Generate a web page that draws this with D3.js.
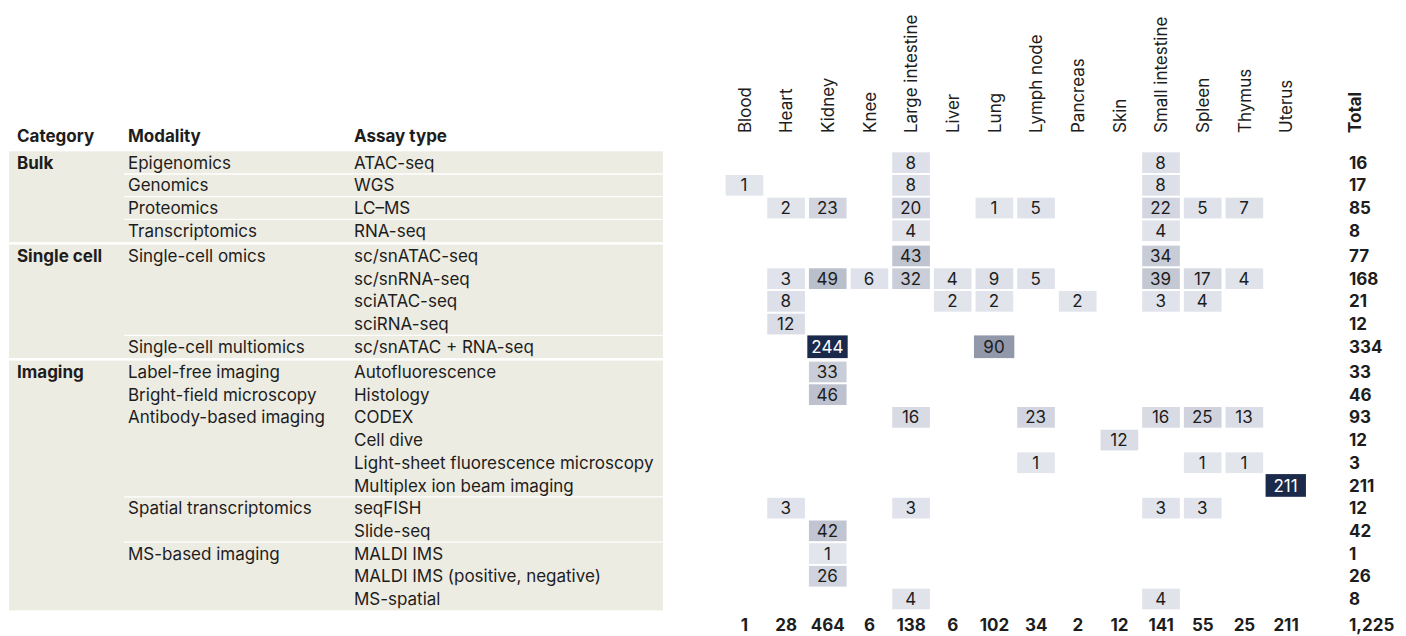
<!DOCTYPE html>
<html>
<head>
<meta charset="utf-8">
<script src="https://cdn.jsdelivr.net/npm/d3@7"></script>
<style>
  html, body { margin: 0; padding: 0; background: #ffffff; }
  svg { display: block; }
  text { font-family: Inter, "Noto Sans", Arial, sans-serif; fill: #1d1d1d; }
</style>
</head>
<body>
<svg id="chart" width="1406" height="636"></svg>
<script>
// ---------------- DATA ----------------
const tissues = ["Blood", "Heart", "Kidney", "Knee", "Large intestine", "Liver", "Lung",
  "Lymph node", "Pancreas", "Skin", "Small intestine", "Spleen", "Thymus", "Uterus"];

const categories = ["Bulk", "Single cell", "Imaging"];
const categoryRowCounts = [4, 5, 11];

const modalities = ["Epigenomics", "Genomics", "Proteomics", "Transcriptomics",
  "Single-cell omics", "Single-cell multiomics",
  "Label-free imaging", "Bright-field microscopy", "Antibody-based imaging",
  "Spatial transcriptomics", "MS-based imaging"];
const modalityRowCounts = [1, 1, 1, 1, 4, 1, 1, 1, 4, 2, 3];
const modalityRuled = [false, true, true, true, false, true, false, false, false, true, true];

const assays = ["ATAC-seq", "WGS", "LC\u2013MS", "RNA-seq",
  "sc/snATAC-seq", "sc/snRNA-seq", "sciATAC-seq", "sciRNA-seq", "sc/snATAC + RNA-seq",
  "Autofluorescence", "Histology", "CODEX", "Cell dive",
  "Light-sheet fluorescence microscopy", "Multiplex ion beam imaging",
  "seqFISH", "Slide-seq", "MALDI IMS", "MALDI IMS (positive, negative)", "MS-spatial"];

// counts per assay row, one value per tissue (0 = empty)
//            Bl He  Ki  Kn  LI Li Lu  LN Pa Sk  SI Sp Th  Ut
const counts = [
  [0, 0,   0, 0,  8, 0,  0,  0, 0, 0,  8,  0,  0,   0],
  [1, 0,   0, 0,  8, 0,  0,  0, 0, 0,  8,  0,  0,   0],
  [0, 2,  23, 0, 20, 0,  1,  5, 0, 0, 22,  5,  7,   0],
  [0, 0,   0, 0,  4, 0,  0,  0, 0, 0,  4,  0,  0,   0],
  [0, 0,   0, 0, 43, 0,  0,  0, 0, 0, 34,  0,  0,   0],
  [0, 3,  49, 6, 32, 4,  9,  5, 0, 0, 39, 17,  4,   0],
  [0, 8,   0, 0,  0, 2,  2,  0, 2, 0,  3,  4,  0,   0],
  [0, 12,  0, 0,  0, 0,  0,  0, 0, 0,  0,  0,  0,   0],
  [0, 0, 244, 0,  0, 0, 90,  0, 0, 0,  0,  0,  0,   0],
  [0, 0,  33, 0,  0, 0,  0,  0, 0, 0,  0,  0,  0,   0],
  [0, 0,  46, 0,  0, 0,  0,  0, 0, 0,  0,  0,  0,   0],
  [0, 0,   0, 0, 16, 0,  0, 23, 0, 0, 16, 25, 13,   0],
  [0, 0,   0, 0,  0, 0,  0,  0, 0, 12, 0,  0,  0,   0],
  [0, 0,   0, 0,  0, 0,  0,  1, 0, 0,  0,  1,  1,   0],
  [0, 0,   0, 0,  0, 0,  0,  0, 0, 0,  0,  0,  0, 211],
  [0, 3,   0, 0,  3, 0,  0,  0, 0, 0,  3,  3,  0,   0],
  [0, 0,  42, 0,  0, 0,  0,  0, 0, 0,  0,  0,  0,   0],
  [0, 0,   1, 0,  0, 0,  0,  0, 0, 0,  0,  0,  0,   0],
  [0, 0,  26, 0,  0, 0,  0,  0, 0, 0,  0,  0,  0,   0],
  [0, 0,   0, 0,  4, 0,  0,  0, 0, 0,  4,  0,  0,   0]
];

// ---------------- LAYOUT ----------------
const svg = d3.select("#chart");

// fit font size so that a reference label has the measured width
function measure(str, size, weight) {
  const t = svg.append("text").attr("font-size", size).attr("font-weight", weight || 400).text(str);
  const w = t.node().getComputedTextLength();
  t.remove();
  return w;
}
const fs = 100 * 197 / measure("Antibody-based imaging", 100);

const pitchY = 22.7, groupGap = 2.5, top0 = 151.3;
const rowGroup = [];
categoryRowCounts.forEach((n, g) => { for (let k = 0; k < n; k++) rowGroup.push(g); });
const y = d3.scaleLinear().domain([0, 1]).range([top0, top0 + pitchY]);
const rowTop = i => y(i + rowGroup[i] * groupGap / pitchY);
const rowMid = i => rowTop(i) + pitchY / 2;

const x = d3.scaleBand().domain(tissues).range([723.7, 723.7 + 14 * 41.66]).padding(0);
const color = d3.scalePow().exponent(1.15).domain([0, 195]).range(["#e3e5ed", "#1b2a4a"]).clamp(true);

const tableLeft = 9, tableRight = 663;
const colCat = 17, colMod = 128, colAssay = 354;
const headerBaseline = 141.5;

// ---- table bands ----
let start = 0;
categories.forEach((c, g) => {
  const n = categoryRowCounts[g];
  svg.append("rect")
    .attr("x", tableLeft).attr("y", rowTop(start))
    .attr("width", tableRight - tableLeft).attr("height", n * pitchY)
    .attr("fill", "#edece3");
  svg.append("text")
    .attr("x", colCat).attr("y", rowMid(start)).attr("dy", "0.36em")
    .attr("font-size", fs).attr("font-weight", 700).text(c);
  start += n;
});

// ---- modality labels & separators ----
start = 0;
modalities.forEach((m, k) => {
  if (modalityRuled[k]) {
    svg.append("line")
      .attr("x1", 124).attr("x2", tableRight)
      .attr("y1", rowTop(start)).attr("y2", rowTop(start))
      .attr("stroke", "#ffffff").attr("stroke-width", 1.3);
  }
  svg.append("text")
    .attr("x", colMod).attr("y", rowMid(start)).attr("dy", "0.36em")
    .attr("font-size", fs).text(m);
  start += modalityRowCounts[k];
});

// ---- assay labels ----
svg.selectAll("text.assay").data(assays).join("text")
  .attr("class", "assay")
  .attr("x", colAssay).attr("y", (d, i) => rowMid(i)).attr("dy", "0.36em")
  .attr("font-size", fs).text(d => d);

// ---- table header ----
[["Category", colCat], ["Modality", colMod], ["Assay type", colAssay]].forEach(([t, xx]) => {
  svg.append("text").attr("x", xx).attr("y", headerBaseline)
    .attr("font-size", fs).attr("font-weight", 700).text(t);
});

// ---- column headers (rotated) ----
svg.selectAll("text.tissue").data(tissues).join("text")
  .attr("class", "tissue")
  .attr("transform", d => `translate(${x(d) + x.bandwidth() / 2},133) rotate(-90)`)
  .attr("dy", "0.36em")
  .attr("font-size", fs).text(d => d);

const totalX = 1349;
svg.append("text")
  .attr("transform", `translate(${totalX + 6},133) rotate(-90)`)
  .attr("dy", "0.36em").attr("font-size", fs).attr("font-weight", 700).text("Total");

// ---- heatmap cells ----
const cells = [];
counts.forEach((row, i) => row.forEach((v, j) => { if (v > 0) cells.push({ i, tissue: tissues[j], v }); }));

const gCells = svg.append("g");
gCells.selectAll("rect").data(cells).join("rect")
  .attr("x", d => x(d.tissue) + (d.v >= 80 ? 0.3 : 1.9))
  .attr("y", d => rowTop(d.i) + (d.v >= 80 ? 0 : 1))
  .attr("width", d => x.bandwidth() - (d.v >= 80 ? 1.3 : 4))
  .attr("height", d => pitchY - (d.v >= 80 ? 0 : 2))
  .attr("fill", d => color(d.v));

gCells.selectAll("text").data(cells).join("text")
  .attr("x", d => x(d.tissue) + x.bandwidth() / 2 - 0.5)
  .attr("y", d => rowMid(d.i)).attr("dy", "0.36em")
  .attr("text-anchor", "middle")
  .attr("font-size", fs)
  .style("fill", d => d.v >= 150 ? "#ffffff" : "#1d1d1d")
  .text(d => d.v);

// ---- row totals ----
const fmt = d3.format(",");
svg.selectAll("text.rowTotal").data(counts).join("text")
  .attr("class", "rowTotal")
  .attr("x", totalX).attr("y", (d, i) => rowMid(i)).attr("dy", "0.36em")
  .attr("font-size", fs).attr("font-weight", 700)
  .text(d => fmt(d3.sum(d)));

// ---- column totals ----
const totalsY = rowMid(counts.length - 1) + 26;
svg.selectAll("text.colTotal").data(tissues).join("text")
  .attr("class", "colTotal")
  .attr("x", d => x(d) + x.bandwidth() / 2).attr("y", totalsY).attr("dy", "0.36em")
  .attr("text-anchor", "middle")
  .attr("font-size", fs).attr("font-weight", 700)
  .text((d, j) => fmt(d3.sum(counts, r => r[j])));

svg.append("text")
  .attr("x", totalX).attr("y", totalsY).attr("dy", "0.36em")
  .attr("font-size", fs).attr("font-weight", 700)
  .text(fmt(d3.sum(counts, r => d3.sum(r))));
</script>
</body>
</html>
